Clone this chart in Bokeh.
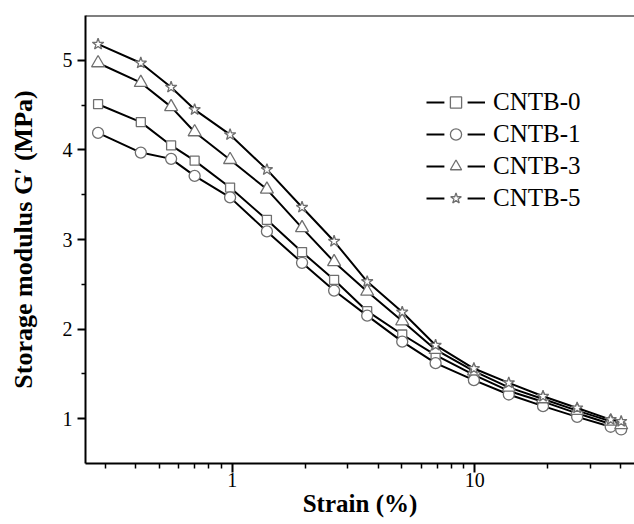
from bokeh.plotting import figure
from bokeh.models import (Range1d, FixedTicker, NumeralTickFormatter, Legend,
                          LegendItem, Span, ColumnDataSource)
from bokeh.embed import file_html
from bokeh.resources import INLINE

# ---- data ----
strain = [0.28, 0.42, 0.56, 0.70, 0.98, 1.39, 1.94, 2.63, 3.60, 5.02, 6.89,
          9.91, 13.8, 19.1, 26.4, 36.3, 40.1]
cntb0 = [4.51, 4.31, 4.05, 3.88, 3.58, 3.22, 2.86, 2.55, 2.20, 1.94, 1.71,
         1.49, 1.31, 1.19, 1.06, 0.94, 0.90]
cntb1 = [4.19, 3.97, 3.90, 3.71, 3.47, 3.09, 2.74, 2.43, 2.15, 1.86, 1.62,
         1.43, 1.27, 1.14, 1.02, 0.91, 0.88]
cntb3 = [4.97, 4.75, 4.48, 4.20, 3.89, 3.56, 3.13, 2.75, 2.42, 2.09, 1.77,
         1.53, 1.35, 1.22, 1.09, 0.97, 0.93]
cntb5 = [5.18, 4.97, 4.70, 4.45, 4.17, 3.78, 3.36, 2.98, 2.53, 2.19, 1.82,
         1.56, 1.40, 1.25, 1.12, 0.99, 0.97]
labels = ["CNTB-0", "CNTB-1", "CNTB-3", "CNTB-5"]
x_major = [1, 10]
x_minor = [0.3, 0.4, 0.5, 0.6, 0.7, 0.8, 0.9, 2, 3, 4, 5, 6, 7, 8, 9, 20, 30, 40]
y_major = [1, 2, 3, 4, 5]
y_minor = [1.5, 2.5, 3.5, 4.5]
x_start, x_end = 0.2485, 45.5
y_start, y_end = 0.5, 5.5
x_title = "Strain (%)"
y_title = "Storage modulus G′ (MPa)"

FONT = "Liberation Serif"
MARK = "#6f6f6f"

p = figure(width=634, height=524, x_axis_type="log",
           x_range=Range1d(x_start, x_end), y_range=Range1d(y_start, y_end),
           output_backend="svg", toolbar_location=None,
           min_border_left=85, min_border_right=0, min_border_top=15,
           min_border_bottom=61)
p.outline_line_color = None
p.grid.visible = False
p.background_fill_color = "white"
p.border_fill_color = "white"

for ax in (p.xaxis[0], p.yaxis[0]):
    ax.axis_line_width = 2
    ax.axis_line_color = "black"
    ax.major_tick_line_width = 2
    ax.minor_tick_line_width = 1.5
    ax.major_tick_in = 0
    ax.minor_tick_in = 0
    ax.major_label_text_font = FONT
    ax.major_label_text_font_size = "20px"
    ax.major_label_text_color = "black"
    ax.axis_label_text_font = FONT
    ax.axis_label_text_font_style = "bold"
    ax.axis_label_text_color = "black"

p.xaxis.ticker = FixedTicker(ticks=x_major, minor_ticks=x_minor)
p.xaxis.formatter = NumeralTickFormatter(format="0")
p.xaxis.major_tick_out = 9
p.xaxis.minor_tick_out = 5
p.xaxis.major_label_standoff = 0
p.xaxis.axis_label = x_title
p.xaxis.axis_label_text_font_size = "25px"
p.xaxis.axis_label_standoff = 0

p.yaxis.ticker = FixedTicker(ticks=y_major, minor_ticks=y_minor)
p.yaxis.major_tick_out = 8
p.yaxis.minor_tick_out = 4
p.yaxis.major_label_standoff = 5
p.yaxis.axis_label = y_title
p.yaxis.axis_label_text_font_size = "26px"
p.yaxis.axis_label_standoff = 22

# top frame line
p.add_layout(Span(location=y_end, dimension="width", line_color="black", line_width=2))

series = [(cntb0, "square", 9), (cntb1, "circle", 11), (cntb3, "triangle", 13), (cntb5, "star", 12)]
items = []
for name, (vals, marker, size) in zip(labels, series):
    src = ColumnDataSource(dict(x=strain, y=vals))
    ln = p.line("x", "y", source=src, line_color="black", line_width=2)
    sc = p.scatter("x", "y", source=src, marker=marker, size=size,
                   fill_color="white", line_color=MARK, line_width=1.3)
    gap = p.scatter(x=[float("nan")], y=[float("nan")], marker="square",
                    fill_color="white", line_color="white", line_width=12)
    items.append(LegendItem(label=name, renderers=[ln, gap, sc]))

legend = Legend(items=items, location=(341, 251), padding=0, margin=0,
                border_line_color=None, background_fill_alpha=0,
                glyph_width=59, glyph_height=28, label_height=28, spacing=4,
                label_standoff=8, label_text_font=FONT,
                label_text_font_size="25px", label_text_color="black")
p.add_layout(legend)

open("out.html", "w").write(file_html(p, INLINE))
